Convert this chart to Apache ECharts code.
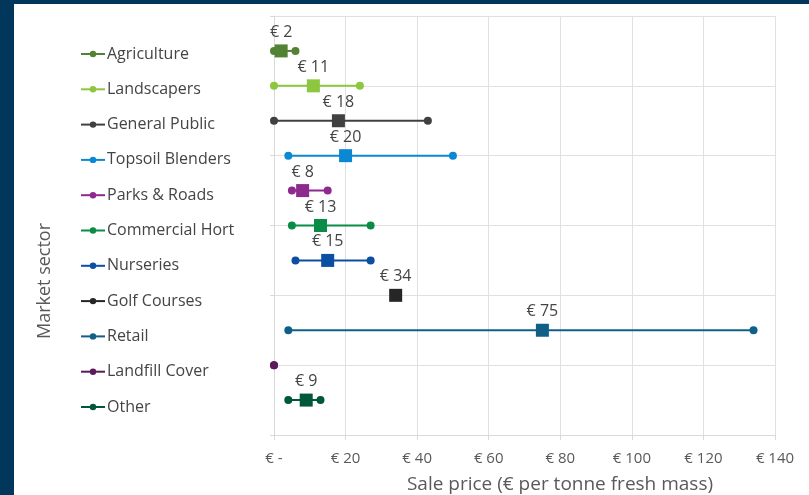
<!DOCTYPE html>
<html>
<head>
<meta charset="utf-8">
<script src="https://cdn.jsdelivr.net/npm/echarts@6/dist/echarts.min.js"></script>
<style>
  html, body { margin: 0; padding: 0; background: #ffffff; }
  #chart { width: 809px; height: 495px; }
</style>
</head>
<body>
<div id="chart"></div>
<script>
// Sale price ranges by market sector (€ per tonne fresh mass)
const categories = ['Agriculture', 'Landscapers', 'General Public', 'Topsoil Blenders', 'Parks & Roads',
  'Commercial Hort', 'Nurseries', 'Golf Courses', 'Retail', 'Landfill Cover', 'Other'];
const minPrice  = [0, 0, 0, 4, 5, 5, 6, 34, 4, 0, 4];
const maxPrice  = [6, 24, 43, 50, 15, 27, 27, 34, 134, 0, 13];
const meanPrice = [2, 11, 18, 20, 8, 13, 15, 34, 75, null, 9];
const sectorColors = ['#548235', '#8dc63f', '#404040', '#0b88d4', '#8e2a8e', '#0a8c46',
  '#0b4ea2', '#262626', '#0f5f88', '#5c1a5c', '#00573a'];
const xTickLabels = { 0: '€ -' };

const textColor = '#595959';
const darkText = '#444444';
const font = 'Open Sans';
const n = categories.length;

const series = [];
categories.forEach((name, i) => {
  const row = n - i;
  series.push({
    name: name,
    type: 'line',
    data: [[minPrice[i], row], [maxPrice[i], row]],
    symbol: 'circle',
    symbolSize: 8,
    lineStyle: { width: 2, color: sectorColors[i] },
    itemStyle: { color: sectorColors[i] },
    z: 2,
    silent: true
  });
});
categories.forEach((name, i) => {
  if (meanPrice[i] === null) return;
  const row = n - i;
  series.push({
    name: name + ' mean',
    type: 'scatter',
    data: [[meanPrice[i], row]],
    symbol: 'rect',
    symbolSize: 13,
    itemStyle: { color: sectorColors[i], opacity: 1 },
    z: 3,
    label: {
      show: true,
      position: 'top',
      distance: 4,
      color: darkText,
      fontFamily: font,
      fontSize: 16,
      formatter: p => '€ ' + p.value[0]
    }
  });
});

const chart = echarts.init(document.getElementById('chart'));
chart.setOption({
  animation: false,
  backgroundColor: '#ffffff',
  grid: { left: 274, right: 34, top: 16, bottom: 60 },
  xAxis: {
    type: 'value',
    min: 0, max: 140, interval: 20,
    axisLine: { show: true, lineStyle: { color: '#d9d9d9', width: 1 } },
    axisTick: { show: true, length: 5, lineStyle: { color: '#d9d9d9' } },
    splitLine: { show: true, lineStyle: { color: '#e0e0e0', width: 1 } },
    axisLabel: {
      color: textColor, fontFamily: font, fontSize: 15, margin: 16,
      formatter: v => (v in xTickLabels ? xTickLabels[v] : '€ ' + v)
    }
  },
  yAxis: {
    type: 'value',
    min: 0, max: 12, interval: 2,
    axisLine: { show: true, lineStyle: { color: '#d9d9d9', width: 1 } },
    axisTick: { show: true, length: 4, lineStyle: { color: '#d9d9d9' } },
    splitLine: { show: true, lineStyle: { color: '#e0e0e0', width: 1 } },
    axisLabel: { show: false }
  },
  legend: {
    orient: 'vertical',
    left: 80,
    top: 46,
    padding: 0,
    data: categories,
    itemWidth: 24,
    itemHeight: 8,
    itemGap: 19.3,
    selectedMode: false,
    textStyle: { color: darkText, fontFamily: font, fontSize: 16, lineHeight: 16, padding: [0, 0, 0, -3] }
  },
  graphic: [
    { type: 'rect', shape: { x: 0, y: 0, width: 809, height: 4 }, style: { fill: '#00375a' }, silent: true },
    { type: 'rect', shape: { x: 0, y: 0, width: 14, height: 495 }, style: { fill: '#00375a' }, silent: true },
    {
      type: 'text', x: 45, y: 281, rotation: Math.PI / 2,
      style: { text: 'Market sector', fill: textColor, font: '18px "Open Sans"', align: 'center', verticalAlign: 'middle' }
    },
    {
      type: 'text', x: 560, y: 485,
      style: { text: 'Sale price (€ per tonne fresh mass)', fill: textColor, font: '19px "Open Sans"', align: 'center', verticalAlign: 'middle' }
    }
  ],
  series: series
});
</script>
</body>
</html>
